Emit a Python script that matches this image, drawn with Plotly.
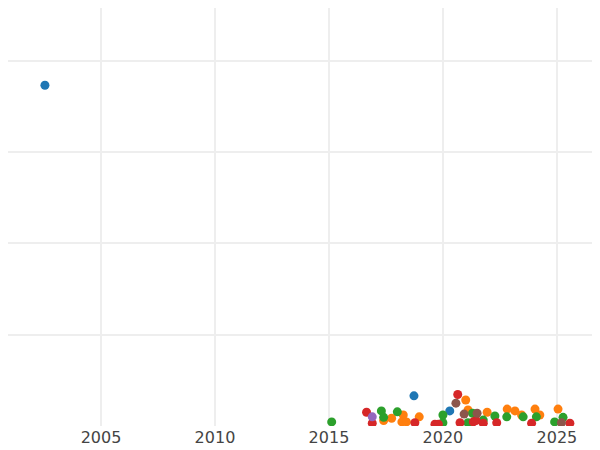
import plotly.graph_objects as go

# values, grouped by colour
blue_x = [2002.54, 2018.73, 2020.3]
blue_y = [74.6, 6.6, 3.3]
orange_x = [2017.4, 2017.75, 2018.26, 2018.2, 2018.4, 2018.96, 2021.0, 2021.1, 2021.94,
            2022.82, 2023.16, 2023.45, 2024.04, 2024.25, 2025.05]
orange_y = [1.2, 1.7, 2.4, 0.9, 0.9, 2.0, 5.7, 3.5, 3.0, 3.7, 3.3, 2.4, 3.7, 2.4, 3.7]
green_x = [2015.12, 2017.3, 2017.4, 2018.0, 2020.0, 2020.0, 2021.3, 2021.1, 2021.77,
           2022.28, 2022.8, 2023.52, 2024.1, 2024.9, 2025.27]
green_y = [0.9, 3.3, 1.9, 3.1, 2.4, 0.7, 2.8, 0.7, 1.3, 2.2, 2.0, 2.0, 2.0, 0.9, 1.9]
red_x = [2016.65, 2016.9, 2018.77, 2019.65, 2019.8, 2020.65, 2020.75, 2021.33, 2021.45,
         2021.77, 2022.36, 2023.89, 2025.57]
red_y = [3.0, 0.6, 0.7, 0.4, 0.4, 6.9, 0.7, 0.9, 1.2, 0.6, 0.7, 0.6, 0.6]
purple_x = [2016.9]
purple_y = [2.0]
brown_x = [2020.57, 2020.93, 2021.5, 2025.2]
brown_y = [5.0, 2.6, 2.8, 0.7]

groups = [
    (blue_x, blue_y, "#1f77b4"),
    (orange_x, orange_y, "#ff7f0e"),
    (green_x, green_y, "#2ca02c"),
    (red_x, red_y, "#d62728"),
    (purple_x, purple_y, "#9467bd"),
    (brown_x, brown_y, "#8c564b"),
]

fig = go.Figure()
for xs, ys, col in groups:
    fig.add_trace(go.Scatter(x=xs, y=ys, mode="markers",
                             marker=dict(size=9, color=col)))

fig.update_layout(
    width=584, height=450,
    margin=dict(l=0, r=0, t=0, b=32, autoexpand=False),
    plot_bgcolor="white", paper_bgcolor="white",
    showlegend=False,
    font=dict(family="DejaVu Sans", size=16, color="#444"),
    xaxis=dict(range=[2000.92, 2026.54], tickvals=[2005, 2010, 2015, 2020, 2025],
               showgrid=True, gridcolor="#eee", gridwidth=1.5, zeroline=False, ticks=""),
    yaxis=dict(range=[0, 91.5], tickvals=[20, 40, 60, 80], showticklabels=False,
               showgrid=True, gridcolor="#eee", gridwidth=1.5, zeroline=False),
)

fig.write_html("out.html")
